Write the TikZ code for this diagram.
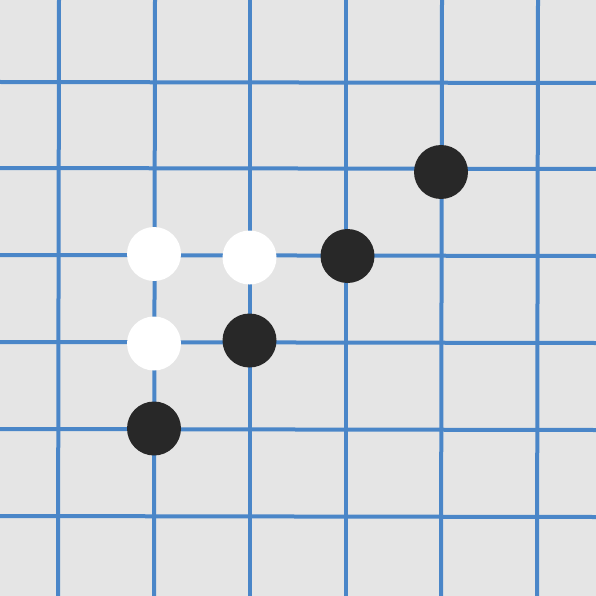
\documentclass[tikz,border=0pt]{standalone}
\definecolor{bg}{HTML}{E5E5E5}
\definecolor{gridblue}{HTML}{4A86C8}
\definecolor{stoneblack}{HTML}{282828}
\tikzset{
  gridline/.style={draw=gridblue, line width=4pt},
  stone/.style={circle, minimum size=54pt, inner sep=0pt, draw=none},
  blackstone/.style={stone, fill=stoneblack},
  whitestone/.style={stone, fill=white},
}
\begin{document}
\begin{tikzpicture}[x=1pt,y=-1pt]
\fill[bg] (0,0) rectangle (596,596);
\useasboundingbox (0,0) rectangle (596,596);
% vertical lines
\draw[gridline] (59,0) -- (58,596);
\draw[gridline] (155,0) -- (154,596);
\draw[gridline] (250,0) -- (250,596);
\draw[gridline] (346,0) -- (346,596);
\draw[gridline] (442,0) -- (441,596);
\draw[gridline] (538,0) -- (537,596);
% horizontal lines
\draw[gridline] (0,82) -- (596,83);
\draw[gridline] (0,168) -- (596,169);
\draw[gridline] (0,255) -- (596,256);
\draw[gridline] (0,342) -- (596,343);
\draw[gridline] (0,429) -- (596,430);
\draw[gridline] (0,516) -- (596,517);
% stones
\node[whitestone] (w1) at (154,254) {};
\node[whitestone] (w2) at (249.5,257.5) {};
\node[whitestone] (w3) at (154,343.5) {};
\node[blackstone] (b1) at (441,172) {};
\node[blackstone] (b2) at (347.5,256) {};
\node[blackstone] (b3) at (249.5,340.5) {};
\node[blackstone] (b4) at (154,428.5) {};
\end{tikzpicture}
\end{document}
